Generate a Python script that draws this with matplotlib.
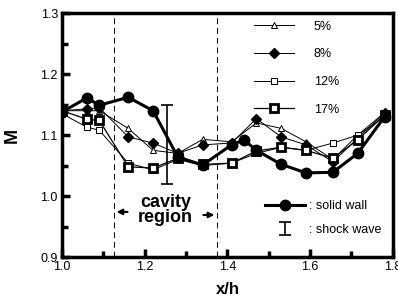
import numpy as np
import matplotlib.pyplot as plt

plt.rcParams['font.family'] = ['Liberation Sans', 'DejaVu Sans']

# x/h positions of the taps
x = [1.0, 1.06, 1.09, 1.16, 1.22, 1.28, 1.34, 1.41, 1.47, 1.53, 1.59, 1.655, 1.715, 1.78]
m_5 = [1.14, 1.14, 1.14, 1.111, 1.075, 1.07, 1.093, 1.089, 1.12, 1.111, 1.089, 1.06, 1.10, 1.137]
m_8 = [1.14, 1.143, 1.145, 1.097, 1.087, 1.07, 1.084, 1.087, 1.127, 1.097, 1.084, 1.056, 1.095, 1.136]
m_12 = [1.135, 1.113, 1.108, 1.054, 1.043, 1.06, 1.05, 1.054, 1.07, 1.08, 1.075, 1.087, 1.10, 1.13]
m_17 = [1.14, 1.126, 1.124, 1.048, 1.046, 1.062, 1.052, 1.054, 1.074, 1.08, 1.075, 1.062, 1.092, 1.133]

x_wall = [1.0, 1.06, 1.09, 1.16, 1.22, 1.28, 1.34, 1.41, 1.44, 1.47, 1.53, 1.59, 1.655, 1.715, 1.78]
m_wall = [1.138, 1.161, 1.149, 1.162, 1.14, 1.064, 1.051, 1.084, 1.092, 1.075, 1.052, 1.038, 1.039, 1.07, 1.13]

# shock wave position / spread
shock_x = 1.253
shock_m = 1.085
shock_err = 0.065

cavity = [1.125, 1.375]

fig = plt.figure(figsize=(3.98, 3.06), dpi=100)
ax = fig.add_axes([0.156, 0.16, 0.831, 0.797])

l5, = ax.plot(x, m_5, color='k', lw=0.7, marker='^', ms=5, mfc='white', mec='k', mew=0.7)
l8, = ax.plot(x, m_8, color='k', lw=0.7, marker='D', ms=5, mfc='k', mec='k')
l12, = ax.plot(x, m_12, color='k', lw=0.7, marker='s', ms=5, mfc='white', mec='k', mew=0.7)
l17, = ax.plot(x, m_17, color='k', lw=0.9, marker='s', ms=5.5, mfc='white', mec='k', mew=2.0)
lw_, = ax.plot(x_wall, m_wall, color='k', lw=2.2, marker='o', ms=7.5, mfc='k', mec='k')

eb = ax.errorbar([shock_x], [shock_m], yerr=[shock_err], fmt='none', ecolor='k',
                 elinewidth=1.2, capsize=4, capthick=1.2)

for xc in cavity:
    ax.axvline(xc, color='k', lw=0.7, ls=(0, (6, 4)))

ax.annotate('', xy=(cavity[0], 0.974), xytext=(1.165, 0.974),
            arrowprops=dict(arrowstyle='-|>', color='k', lw=1.5, mutation_scale=8))
ax.annotate('', xy=(cavity[1], 0.969), xytext=(1.335, 0.969),
            arrowprops=dict(arrowstyle='-|>', color='k', lw=1.5, mutation_scale=8))
ax.text(1.25, 0.977, 'cavity\nregion', ha='center', va='center', fontsize=13,
        fontweight='bold', linespacing=0.9)

ax.set_xlim(1.0, 1.8)
ax.set_ylim(0.9, 1.3)
ax.set_xticks(np.arange(1.0, 1.81, 0.2))
ax.set_xticks(np.arange(1.1, 1.8, 0.2), minor=True)
ax.set_yticks(np.arange(0.9, 1.31, 0.1))
ax.set_yticks(np.arange(0.95, 1.3, 0.1), minor=True)
ax.set_xticklabels(['1.0', '1.2', '1.4', '1.6', '1.8'])
ax.set_yticklabels(['0.9', '1.0', '1.1', '1.2', '1.3'])
ax.tick_params(which='major', direction='in', length=6, width=2.5, labelsize=9, pad=3)
ax.tick_params(which='minor', direction='in', length=4, width=2.5)
for s in ax.spines.values():
    s.set_linewidth(2.5)

ax.set_xlabel('x/h', fontsize=12, fontweight='bold', labelpad=6)
ax.set_ylabel('M', fontsize=13, fontweight='bold', labelpad=14)

leg1 = ax.legend([l5, l8, l12, l17], ['5%', '8%', '12%', '17%'], loc='upper right',
                 bbox_to_anchor=(0.86, 1.0), frameon=False, fontsize=9, handlelength=3.2,
                 labelspacing=1.25, handletextpad=1.6, borderaxespad=0.2, numpoints=1)
ax.add_artist(leg1)

ax.legend([lw_, eb], [': solid wall', ': shock wave'], loc='lower right',
          bbox_to_anchor=(1.0, 0.04), frameon=False, fontsize=9, handlelength=3.2,
          labelspacing=0.95, handletextpad=0.3, numpoints=1)

fig.savefig('out.png', dpi=100)
